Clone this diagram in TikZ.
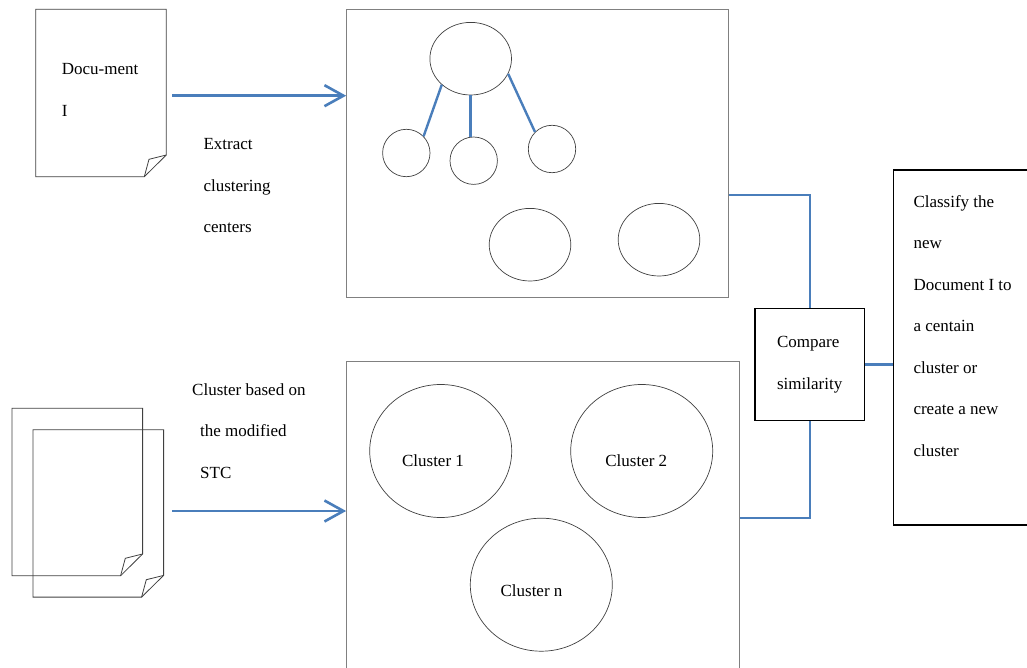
\documentclass[tikz,border=0pt]{standalone}
\usepackage{fontspec}
\setmainfont{Liberation Serif}
\definecolor{lnBlue}{HTML}{4A7EBB}
\definecolor{lnGray}{HTML}{808080}
\definecolor{lnDark}{HTML}{404040}
\usetikzlibrary{arrows.meta,shapes.geometric,calc}

\begin{document}
\begin{tikzpicture}[x=1pt, y=-1pt, font=\fontsize{17}{41.5}\selectfont,
  frame/.style={draw=lnGray, line width=1.1pt, inner sep=0pt},
  page/.style={draw=lnDark, line width=0.8pt},
  blob/.style={ellipse, draw=lnDark, line width=0.7pt, inner sep=0pt, minimum width=81.6, minimum height=72.6},
  dot/.style={circle, draw=lnDark, line width=0.7pt, inner sep=0pt, minimum size=47.4},
  clus/.style={ellipse, draw=lnDark, line width=0.7pt, inner sep=0pt, minimum width=142, minimum height=133},
  flow/.style={-{Straight Barb[length=19pt,width=21pt]}, lnBlue, line width=2.6pt},
  link/.style={lnBlue, line width=2.4pt},
  words/.style={anchor=north west, inner sep=0pt, align=left}]
\path[use as bounding box, clip] (0,0) rectangle (1027,668);
% document pages with folded corner
\foreach \x/\y in {35.7/9.3, 12/408.3, 33/429.7}{
  \draw[page] (\x,\y) -- ++(130.6,0) -- ++(0,145.7) -- ++(-22,21.7) -- ++(-108.6,0) -- cycle;
  \draw[page] (\x+108.6,\y+167.4) -- ++(4.7,-17.4) -- ++(17.3,-4.3);
}
\node[words] (doctxt) at (61.7,63.4) {Docu-ment\\I};
\node[words] (extract) at (203.3,138.4) {Extract\\clustering\\centers};
\node[words] (stcnote) at (192,383.4) {Cluster based on\\\hspace*{8pt}the modified\\\hspace*{8pt}STC};
% clustering centers
\node[frame, minimum width=381.6, minimum height=288] (centers) at (537.5,153.3) {};
\node[blob] (root) at (470.7,58.7) {};
\node[dot] (leafa) at (406.3,153) {};
\node[dot] (leafb) at (473.7,160.7) {};
\node[dot] (leafc) at (552,149) {};
\node[blob] (cena) at (530,244.7) {};
\node[blob] (cenb) at (659,239.7) {};
\draw[link] (root.-138) -- (leafa.44);
\draw[link, line width=3.5pt] (root.south) -- (root.south |- leafb.north);
\draw[link] (root.-22) -- (leafc.135);
% clusters
\node[frame, minimum width=392.6, minimum height=312] (clusters) at (543,517.7) {};
\node[clus] (cla) at (440.7,451) {};
\node[clus] (clb) at (641.7,451) {};
\node[clus] (cln) at (541.3,584.7) {};
\node[inner sep=0pt] (clatxt) at (433,460.4) {Cluster 1};
\node[inner sep=0pt] (clbtxt) at (636.3,460.4) {Cluster 2};
\node[inner sep=0pt] (clntxt) at (531.5,591) {Cluster n};
% compare and classify
\node[draw=black, line width=1.3pt, inner sep=0pt, align=left, minimum width=109.3, minimum height=111.6] (compare) at (809.65,364.5) {Compare\\similarity};
\node[draw=black, line width=1.3pt, minimum width=146.3, minimum height=355] (verdict) at (966.85,347.5) {};
\node[words] (verdicttxt) at (913.3,195.1) {Classify the\\new\\Document I to\\a centain\\cluster or\\create a new\\cluster};
% arrows and connectors
\coordinate (docout) at (172,95.7);
\draw[flow] (docout) -- (docout -| centers.west);
\coordinate (stackout) at (172,511);
\draw[flow] (stackout) -- (stackout -| clusters.west);
\draw[link, line width=2pt] ([yshift=-41.7pt]centers.east) -| (compare.north);
\draw[link, line width=2pt] (compare.south) |- (clusters.east);
\draw[link, line width=3pt] (compare.east) -- (compare.east -| verdict.west);
\end{tikzpicture}
\end{document}
